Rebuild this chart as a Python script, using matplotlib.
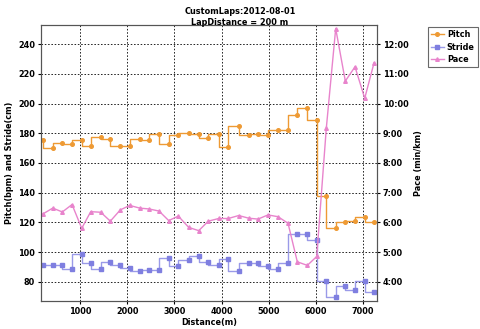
import matplotlib
matplotlib.use("Agg")
import matplotlib.pyplot as plt

# lap distances (m)
distance = [210, 422, 625, 831, 1036, 1227, 1439, 1642, 1854, 2053,
            2265, 2468, 2674, 2879, 3083, 3303, 3515, 3718, 3939, 4142,
            4362, 4574, 4771, 4983, 5195, 5407, 5604, 5816, 6015, 6218,
            6417, 6621, 6826, 7032, 7229]

pitch = [175.5, 170.3, 173.4, 172.6, 175.5, 171.2, 177.3, 176.4, 171.4, 171.4,
         176.1, 175.2, 179.5, 172.6, 178.6, 180.4, 179.5, 177.0, 179.5, 171.0,
         184.9, 178.6, 179.3, 179.0, 182.2, 182.2, 192.3, 196.8, 188.9, 137.8,
         116.1, 119.9, 121.2, 123.9, 120.3]

stride = [91.4, 91.4, 91.2, 88.3, 98.8, 92.6, 88.7, 93.2, 91.4, 89.0,
          87.4, 88.1, 88.1, 96.3, 90.3, 94.8, 97.5, 93.2, 91.4, 95.3,
          87.4, 92.6, 92.6, 90.5, 88.7, 92.6, 112.3, 112.3, 107.8, 80.7,
          69.5, 76.8, 74.4, 80.4, 73.3]

# pace in minutes per km
pace = [6.28, 6.48, 6.35, 6.60, 5.80, 6.36, 6.34, 6.04, 6.42, 6.57,
        6.48, 6.45, 6.38, 6.06, 6.21, 5.83, 5.72, 6.04, 6.13, 6.13,
        6.23, 6.14, 6.11, 6.25, 6.19, 5.97, 4.67, 4.55, 4.85, 9.17,
        12.53, 10.76, 11.24, 10.18, 11.37]

x_ticks = [1000, 2000, 3000, 4000, 5000, 6000, 7000]
left_ticks = [80, 100, 120, 140, 160, 180, 200, 220, 240]
pace_ticks = [4, 5, 6, 7, 8, 9, 10, 11, 12]

plt.rcParams['font.family'] = 'DejaVu Sans'
plt.rcParams['font.weight'] = 'bold'
fs = 5.9

c_pitch = '#ee9a34'
c_stride = '#7f7fe0'
c_pace = '#e884cc'

fig = plt.figure(figsize=(4.8, 3.29), dpi=100)
ax = fig.add_axes([0.0848, 0.0851, 0.7006, 0.839])

l1, = ax.plot(distance, pitch, drawstyle='steps-pre', color=c_pitch, lw=1.0,
              marker='o', ms=2.6, label='Pitch')
l2, = ax.plot(distance, stride, drawstyle='steps-pre', color='#9a9ae8', lw=1.0,
              marker='s', ms=3.2, mfc=c_stride, mec=c_stride, label='Stride')

ax.set_xlim(167, 7292)
ylo, yhi = 67, 253
ax.set_ylim(ylo, yhi)
ax.set_xticks(x_ticks)
ax.set_yticks(left_ticks)
ax.grid(True, color='#222222', linestyle=(0, (1.6, 1.8)), linewidth=0.7)
ax.tick_params(labelsize=fs, length=2.5, width=0.8, pad=1.5)
ax.set_xlabel('Distance(m)', fontsize=fs, fontweight='bold', labelpad=2)
ax.set_ylabel('Pitch(bpm) and Stride(cm)', fontsize=fs, fontweight='bold', labelpad=3)
for s in ax.spines.values():
    s.set_color('#555555')

ax2 = ax.twinx()
l3, = ax2.plot(distance, pace, color=c_pace, lw=1.0, marker='^', ms=2.6, label='Pace')
# right axis shares the left grid: 4:00 -> 80, 12:00 -> 240
ax2.set_ylim(4 + (ylo - 80) / 20, 4 + (yhi - 80) / 20)
ax2.set_yticks(pace_ticks)
ax2.set_yticklabels([f'{t}:00' for t in pace_ticks])
ax2.tick_params(labelsize=fs, length=2.5, width=0.8, pad=1.5)
ax2.set_ylabel('Pace (min/km)', fontsize=fs, fontweight='bold', labelpad=4)
for s in ax2.spines.values():
    s.set_color('#555555')

fig.text(0.5, 0.978, 'CustomLaps:2012-08-01\nLapDistance = 200 m', ha='center', va='top',
         fontsize=fs, fontweight='bold', linespacing=1.2)

leg = fig.legend([l1, l2, l3], ['Pitch', 'Stride', 'Pace'], loc='upper left',
                 bbox_to_anchor=(428 / 480, 1 - 27 / 329), fontsize=fs,
                 frameon=True, fancybox=False, handlelength=1.5, handletextpad=0.4,
                 borderpad=0.4, labelspacing=0.4, borderaxespad=0)
leg.get_frame().set_edgecolor('#444444')
leg.get_frame().set_linewidth(0.8)

fig.savefig('out.png', dpi=100)
